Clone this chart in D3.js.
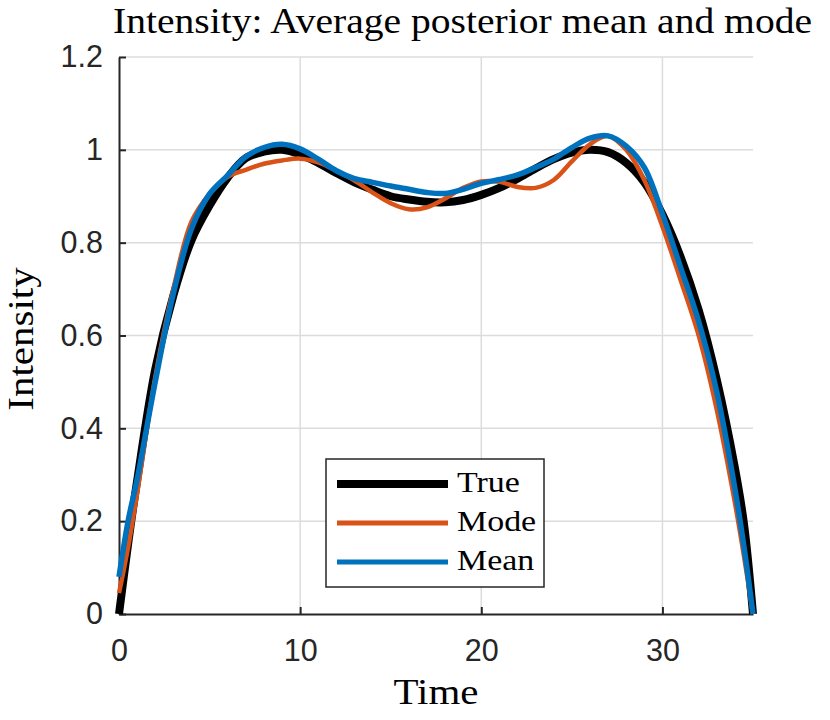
<!DOCTYPE html>
<html>
<head>
<meta charset="utf-8">
<script src="https://cdn.jsdelivr.net/npm/d3@7"></script>
<style>
  body { margin: 0; background: #fff; }
  svg { display: block; }
</style>
</head>
<body>
<div id="chart"></div>
<script>
// time points and the three curves
var time = [0, 0.5, 1, 2, 3, 4, 5, 6, 7, 8, 9, 10, 11, 12, 13, 14, 15, 16, 17, 18,
            19, 20, 21, 22, 23, 24, 25, 26, 27, 28, 29, 30, 31, 32, 33, 34, 34.5, 35];

var trueVals = [0, 0.15, 0.287, 0.527, 0.686, 0.805, 0.88, 0.94, 0.982, 0.996, 1.0, 0.99, 0.972, 0.95,
                0.93, 0.914, 0.9, 0.893, 0.888, 0.887, 0.892, 0.903, 0.918, 0.938, 0.96, 0.98,
                0.994, 1.0, 0.995, 0.972, 0.93, 0.861, 0.77, 0.655, 0.505, 0.315, 0.195, 0];

var modeVals = [0.045, 0.143, 0.26, 0.51, 0.70, 0.845, 0.905, 0.942, 0.957, 0.97, 0.977, 0.981, 0.973,
                0.955, 0.934, 0.908, 0.885, 0.872, 0.876, 0.895, 0.918, 0.932, 0.931, 0.92, 0.918,
                0.935, 0.975, 1.012, 1.03, 1.0, 0.935, 0.835, 0.72, 0.6, 0.44, 0.24, 0.125, 0];

var meanVals = [0.08, 0.2, 0.29, 0.5, 0.69, 0.83, 0.905, 0.945, 0.985, 1.005, 1.012, 1.002, 0.98,
                0.955, 0.938, 0.93, 0.922, 0.915, 0.908, 0.906, 0.915, 0.928, 0.936, 0.946, 0.962,
                0.98, 1.005, 1.025, 1.03, 1.008, 0.962, 0.862, 0.747, 0.63, 0.478, 0.27, 0.145, 0];

var seriesNames = ['True', 'Mode', 'Mean'];
var xTicks = [0, 10, 20, 30];
var yTicks = [0, 0.2, 0.4, 0.6, 0.8, 1, 1.2];

var width = 830,
    height = 720;

var axisColor = '#262626',
    gridColor = '#dcdcdc',
    serif = '"Liberation Serif", "DejaVu Serif", serif',
    sans = '"Liberation Sans", Arial, sans-serif',
    serifStretch = 1.17;   // Computer Modern runs wider than Times

var x = d3.scaleLinear().domain([0, 35]).range([119, 753]);
var y = d3.scaleLinear().domain([0, 1.2]).range([614, 57]);

var svg = d3.select('#chart').append('svg')
    .attr('width', width)
    .attr('height', height)
    .style('background', '#fff');

// widen serif text to mimic the LaTeX font
function stretch(sel) {
  sel.each(function() {
    var w = this.getComputedTextLength();
    d3.select(this)
      .attr('textLength', w * serifStretch)
      .attr('lengthAdjust', 'spacingAndGlyphs');
  });
}

// grid
svg.append('g').selectAll('line').data(xTicks.slice(1))
  .enter().append('line')
    .attr('x1', function(d) { return x(d); })
    .attr('x2', function(d) { return x(d); })
    .attr('y1', y(0))
    .attr('y2', y(1.2))
    .style('stroke', gridColor)
    .style('stroke-width', 1.5);

svg.append('g').selectAll('line').data(yTicks.slice(1))
  .enter().append('line')
    .attr('x1', x(0))
    .attr('x2', x(35))
    .attr('y1', function(d) { return y(d); })
    .attr('y2', function(d) { return y(d); })
    .style('stroke', gridColor)
    .style('stroke-width', 1.5);

// axes
var yAxis = d3.axisLeft(y).tickValues(yTicks)
    .tickFormat(function(d) { return d3.format('')(d); })
    .tickSizeInner(-7).tickSizeOuter(0).tickPadding(16);
var xAxis = d3.axisBottom(x).tickValues(xTicks)
    .tickSizeInner(-7).tickSizeOuter(0).tickPadding(25);

var gy = svg.append('g').attr('transform', 'translate(' + x(0) + ',0)').call(yAxis);
var gx = svg.append('g').attr('transform', 'translate(0,' + y(0) + ')').call(xAxis);

[gx, gy].forEach(function(g) {
  g.selectAll('path, line').style('stroke', axisColor).style('stroke-width', 2);
  g.selectAll('text')
    .style('fill', axisColor)
    .style('font-family', sans)
    .style('font-size', '30.5px');
});

// curves
var line = d3.line()
    .x(function(d) { return x(d[0]); })
    .y(function(d) { return y(d[1]); })
    .curve(d3.curveCatmullRom.alpha(0.5));

var series = [
  { name: seriesNames[0], vals: trueVals, color: '#000000', w: 8, lw: 8 },
  { name: seriesNames[1], vals: modeVals, color: '#D95319', w: 4.5, lw: 5 },
  { name: seriesNames[2], vals: meanVals, color: '#0072BD', w: 5.5, lw: 5 }
];

svg.append('g').selectAll('path').data(series)
  .enter().append('path')
    .attr('d', function(s) { return line(time.map(function(t, i) { return [t, s.vals[i]]; })); })
    .style('fill', 'none')
    .style('stroke', function(s) { return s.color; })
    .style('stroke-width', function(s) { return s.w; })
    .style('stroke-linejoin', 'round');

// legend
var legend = svg.append('g').attr('transform', 'translate(326,459)');
legend.append('rect')
    .attr('width', 218)
    .attr('height', 128)
    .style('fill', '#fff')
    .style('stroke', axisColor)
    .style('stroke-width', 1.5);

var item = legend.selectAll('g.item').data(series)
  .enter().append('g')
    .attr('class', 'item')
    .attr('transform', function(d, i) { return 'translate(0,' + (25 + i * 39) + ')'; });
item.append('line')
    .attr('x1', 11).attr('x2', 122)
    .style('stroke', function(d) { return d.color; })
    .style('stroke-width', function(d) { return d.lw; });
item.append('text')
    .attr('x', 131)
    .attr('y', 8)
    .text(function(d) { return d.name; })
    .style('font-family', serif)
    .style('font-size', '29px')
    .style('fill', '#000')
    .call(stretch);

// title and labels
svg.append('text')
    .attr('x', 113)
    .attr('y', 33)
    .attr('textLength', 699)
    .attr('lengthAdjust', 'spacingAndGlyphs')
    .text('Intensity: Average posterior mean and mode')
    .style('font-family', serif)
    .style('font-size', '35px')
    .style('fill', '#000');

svg.append('text')
    .attr('x', 436)
    .attr('y', 704)
    .attr('text-anchor', 'middle')
    .text('Time')
    .style('font-family', serif)
    .style('font-size', '35px')
    .style('fill', '#000')
    .call(stretch);

svg.append('text')
    .attr('transform', 'translate(33,339) rotate(-90)')
    .attr('text-anchor', 'middle')
    .text('Intensity')
    .style('font-family', serif)
    .style('font-size', '35px')
    .style('fill', '#000')
    .call(stretch);
</script>
</body>
</html>
